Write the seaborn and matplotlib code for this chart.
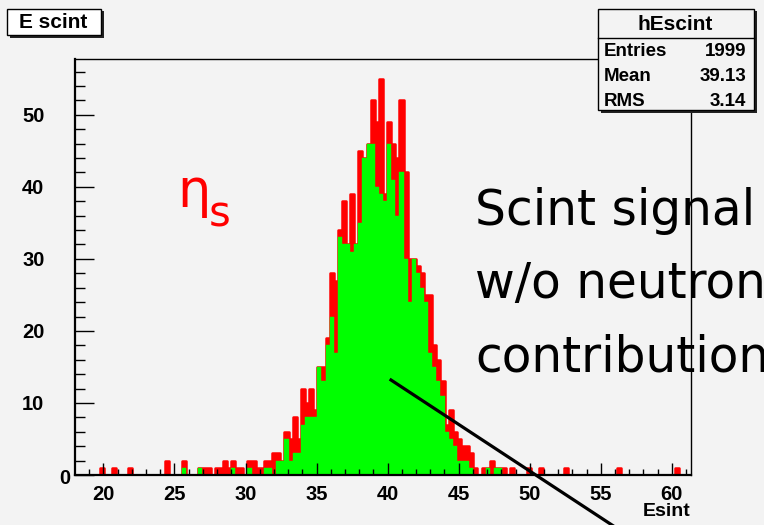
import numpy as np
import pandas as pd
import matplotlib
matplotlib.use("Agg")
import matplotlib.pyplot as plt
import seaborn as sns
from matplotlib.lines import Line2D
from matplotlib.patches import Rectangle

# ---------------- data ----------------
x_min, x_max, n_bins = 18.0, 61.35, 150

red_counts = [
    0, 0, 0, 0, 0, 0, 1, 0, 0, 1,
    0, 0, 0, 1, 0, 0, 0, 0, 0, 0,
    0, 0, 2, 0, 0, 0, 2, 0, 0, 0,
    1, 1, 1, 0, 1, 1, 2, 1, 2, 1,
    1, 0, 2, 2, 1, 1, 2, 2, 3, 3,
    2, 6, 5, 8, 5, 12, 10, 12, 9, 15,
    15, 19, 28, 27, 34, 38, 32, 39, 32, 45,
    44, 46, 52, 49, 55, 39, 49, 46, 44, 52,
    42, 30, 30, 29, 28, 25, 25, 18, 16, 13,
    7, 9, 6, 5, 4, 4, 3, 1, 0, 1,
    1, 2, 1, 1, 1, 0, 1, 0, 0, 0,
    1, 0, 0, 1, 0, 0, 0, 0, 0, 1,
    0, 0, 0, 0, 0, 0, 0, 0, 0, 0,
    0, 0, 1, 0, 0, 0, 0, 0, 0, 0,
    0, 0, 0, 0, 0, 0, 1, 0, 0, 0,
]

green_counts = [
    0, 0, 0, 0, 0, 0, 0, 0, 0, 0,
    0, 0, 0, 0, 0, 0, 0, 0, 0, 0,
    0, 0, 0, 0, 0, 0, 1, 0, 0, 0,
    1, 0, 0, 0, 0, 0, 0, 0, 1, 0,
    0, 0, 1, 0, 0, 0, 1, 1, 0, 2,
    2, 5, 2, 3, 3, 7, 8, 8, 8, 15,
    13, 18, 22, 17, 33, 32, 32, 31, 32, 35,
    44, 46, 46, 40, 39, 38, 46, 41, 36, 42,
    30, 24, 30, 28, 26, 24, 17, 15, 13, 11,
    6, 5, 4, 2, 2, 2, 1, 0, 0, 0,
    1, 0, 1, 1, 0, 0, 0, 0, 0, 0,
    0, 0, 0, 0, 0, 0, 0, 0, 0, 0,
    0, 0, 0, 0, 0, 0, 0, 0, 0, 0,
    0, 0, 0, 0, 0, 0, 0, 0, 0, 0,
    0, 0, 0, 0, 0, 0, 0, 0, 0, 0,
]

x_ticks = [20, 25, 30, 35, 40, 45, 50, 55, 60]
y_ticks = [0, 10, 20, 30, 40, 50]

title_text = "E scint"
stats_name = "hEscint"
stats_rows = [("Entries", "1999"), ("Mean", "39.13"), ("RMS", "3.14")]
x_label = "Esint"
note_lines = ["Scint signal", "w/o neutron", "contribution"]

# ---------------- figure ----------------
W, H = 764, 525
BG = "#f3f3f3"
BOLD = dict(family="Liberation Sans", weight="bold")

fig = plt.figure(figsize=(W / 100, H / 100), dpi=100, facecolor=BG)


def fx(px):
    return px / W


def fy(py):
    return 1 - py / H


ax = fig.add_axes([fx(75), fy(475), fx(691) - fx(75), fy(59) - fy(475)])
ax.set_facecolor(BG)
ax.set_axisbelow(False)

bin_w = (x_max - x_min) / n_bins
centers = x_min + bin_w * (np.arange(n_bins) + 0.5)
df = pd.DataFrame({"x": centers, "red": red_counts, "green": green_counts})

sns.histplot(data=df, x="x", weights="red", bins=n_bins, binrange=(x_min, x_max),
             element="step", fill=True, color="#ff0000", alpha=1,
             edgecolor="#ff0000", linewidth=1.8, ax=ax, legend=False)
sns.histplot(data=df, x="x", weights="green", bins=n_bins, binrange=(x_min, x_max),
             element="step", fill=True, color="#00ff00", alpha=1,
             edgecolor="#00ff00", linewidth=0.3, ax=ax, legend=False)

ax.set_xlim(x_min, x_max)
ax.set_ylim(0, 57.75)
ax.set_xticks(x_ticks)
ax.set_xticks(np.arange(19, 62, 1), minor=True)
ax.set_yticks(y_ticks)
ax.set_yticks(np.arange(0, 58, 2), minor=True)
ax.set_xticklabels([str(t) for t in x_ticks], **BOLD, fontsize=14.5)
ax.set_yticklabels([str(t) if t else "" for t in y_ticks], **BOLD, fontsize=14.5)
ax.tick_params(axis="x", which="major", direction="in", length=8.5, width=1,
               pad=7, color="black")
ax.tick_params(axis="x", which="minor", direction="in", length=4.2, width=1,
               color="black")
ax.tick_params(axis="y", which="major", direction="in", length=13.5, width=1,
               pad=22, color="black")
ax.tick_params(axis="y", which="minor", direction="in", length=7, width=1,
               color="black")
ax.set_xlabel("")
ax.set_ylabel("")
for s in ax.spines.values():
    s.set_color("black")
    s.set_linewidth(1.0)
    s.set_zorder(5)
ax.spines["left"].set_linewidth(1.6)
ax.spines["bottom"].set_linewidth(1.6)

# zero label of y axis
fig.text(fx(70), fy(478), "0", ha="right", va="center", fontsize=14.5, **BOLD)

# x axis label
fig.text(fx(690), fy(512), x_label, ha="right", va="center", fontsize=14, **BOLD)

# title box with shadow
fig.add_artist(Rectangle((fx(10), fy(38)), fx(94), fy(0) - fy(27),
                         transform=fig.transFigure, facecolor="#222222",
                         edgecolor="none"))
fig.add_artist(Rectangle((fx(7), fy(35)), fx(94), fy(0) - fy(26),
                         transform=fig.transFigure, facecolor="white",
                         edgecolor="black", linewidth=1))
fig.text(fx(53), fy(22.5), title_text, ha="center", va="center", fontsize=15, **BOLD)

# stats box with shadow
fig.add_artist(Rectangle((fx(601), fy(113)), fx(156), fy(0) - fy(102),
                         transform=fig.transFigure, facecolor="#222222",
                         edgecolor="none"))
fig.add_artist(Rectangle((fx(598), fy(110)), fx(156), fy(0) - fy(101),
                         transform=fig.transFigure, facecolor=BG,
                         edgecolor="black", linewidth=1))
fig.add_artist(Line2D([fx(598), fx(754)], [fy(38), fy(38)],
                      transform=fig.transFigure, color="black", linewidth=1))
fig.text(fx(675), fy(25), stats_name, ha="center", va="center", fontsize=15, **BOLD)
for i, (k, v) in enumerate(stats_rows):
    yy = 51 + i * 25.5
    fig.text(fx(604), fy(yy), k, ha="left", va="center", fontsize=13.5, **BOLD)
    fig.text(fx(746), fy(yy), v, ha="right", va="center", fontsize=13.5, **BOLD)

# eta_s label
fig.text(fx(177), fy(207), "η", color="#ff0000", fontsize=38,
         family="DejaVu Sans", ha="left", va="baseline")
fig.text(fx(209), fy(227), "s", color="#ff0000", fontsize=30,
         family="DejaVu Sans", ha="left", va="baseline")

# note text
for i, line in enumerate(note_lines):
    fig.text(fx(475), fy(225 + i * 73), line, color="black", fontsize=35,
             family="DejaVu Sans", ha="left", va="baseline")

# pointer line
fig.add_artist(Line2D([fx(391), fx(615)], [fy(380), fy(527)],
                      transform=fig.transFigure, color="black", linewidth=2.3))

fig.savefig("out.png", dpi=100, facecolor=BG)
